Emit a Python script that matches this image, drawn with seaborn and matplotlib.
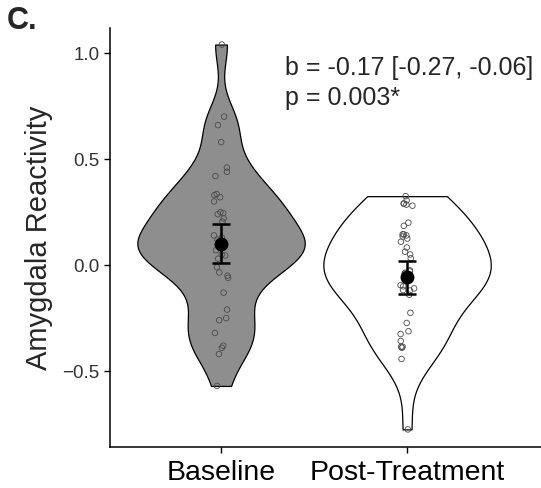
import numpy as np
import pandas as pd
import seaborn as sns
import matplotlib.pyplot as plt

groups = ['Baseline', 'Post-Treatment']

baseline = [1.04, 0.70, 0.66, 0.58, 0.46, 0.44, 0.42, 0.335, 0.33, 0.32, 0.30,
            0.25, 0.245, 0.24, 0.22, 0.205, 0.14, 0.13, 0.12, 0.11, 0.10, 0.09,
            0.08, 0.07, 0.05, 0.045, 0.03, -0.01, -0.035, -0.05, -0.06, -0.13,
            -0.21, -0.25, -0.26, -0.32, -0.38, -0.39, -0.42, -0.57]
post = [0.325, 0.305, 0.29, 0.29, 0.285, 0.28, 0.20, 0.185, 0.145, 0.14, 0.135,
        0.145, 0.125, 0.11, 0.083, 0.063, 0.05, 0.032, -0.025, -0.03, -0.036,
        -0.045, -0.04, -0.055, -0.065, -0.07, -0.095, -0.10, -0.11, -0.118,
        -0.12, -0.14, -0.225, -0.273, -0.312, -0.325, -0.358, -0.385, -0.39,
        -0.385, -0.443, -0.775]

means = np.array([0.10, -0.057])
ci_low = np.array([0.011, -0.137])
ci_high = np.array([0.192, 0.017])

fills = {'Baseline': '#8e8e8e', 'Post-Treatment': 'white'}
bw = {'Baseline': 0.62, 'Post-Treatment': 1.12}

df = pd.DataFrame({
    'group': ['Baseline'] * len(baseline) + ['Post-Treatment'] * len(post),
    'value': baseline + post,
})

sns.set_style('ticks')
plt.rcParams['font.family'] = ['Liberation Sans', 'DejaVu Sans']

fig = plt.figure(figsize=(5.41, 4.88), dpi=100)
ax = fig.add_axes([0.2033, 0.084, 0.7967, 0.8586])

# each violin gets its own bandwidth
for g in groups:
    sns.violinplot(data=df[df['group'] == g], x='group', y='value', order=groups,
                   color=fills[g], inner=None, cut=0, width=0.9,
                   density_norm='width', bw_adjust=bw[g], linewidth=0.9,
                   linecolor='black', saturation=1, ax=ax)

np.random.seed(3)
n_before = len(ax.collections)
sns.stripplot(data=df, x='group', y='value', order=groups, color='white',
              jitter=0.04, size=4, linewidth=0.6, edgecolor='#4a4a4a',
              ax=ax, zorder=3)
for coll in ax.collections[n_before:]:
    coll.set_facecolor('none')

ax.errorbar([0, 1], means, yerr=[means - ci_low, ci_high - means], fmt='o',
            color='black', markersize=9, capsize=6.5, elinewidth=1.8,
            capthick=1.8, zorder=5)

ax.set_xlim(-0.597, 1.72)
ax.set_ylim(-0.858, 1.118)
ax.set_yticks([-0.5, 0.0, 0.5, 1.0])
ax.set_yticklabels(['\u22120.5', '0.0', '0.5', '1.0'])
ax.set_xlabel('')
ax.set_ylabel('Amygdala Reactivity', fontsize=21, labelpad=7)
ax.tick_params(axis='y', labelsize=13.5, length=4, width=1, colors='black')
ax.tick_params(axis='x', labelsize=20.5, length=4, width=1, colors='black', pad=5)
for lab in ax.get_yticklabels():
    lab.set_color('#333333')
sns.despine(ax=ax)
for side in ['left', 'bottom']:
    ax.spines[side].set_linewidth(1.1)
    ax.spines[side].set_color('black')

fig.text(285 / 541, 1 - 68 / 488, 'b = -0.17 [-0.27, -0.06]', fontsize=18,
         va='center', ha='left')
fig.text(285 / 541, 1 - 98 / 488, 'p = 0.003*', fontsize=18,
         va='center', ha='left')
fig.text(7 / 541, 1 - 21 / 488, 'C.', fontsize=22, fontweight='bold',
         va='center', ha='left')

fig.savefig('out.png', dpi=100)
